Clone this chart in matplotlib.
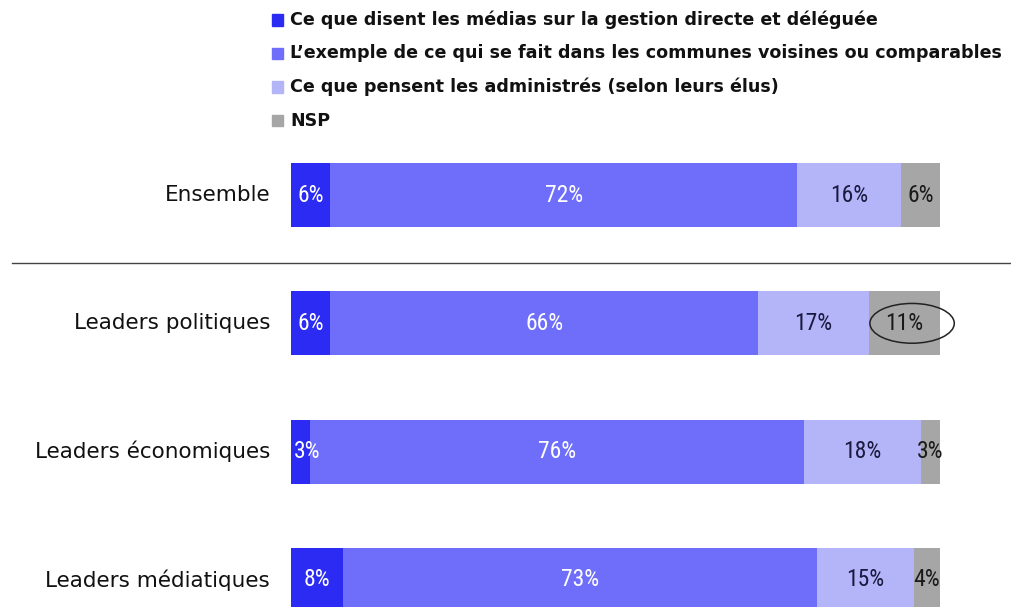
import matplotlib
matplotlib.use("Agg")
import matplotlib.pyplot as plt
from matplotlib.patches import Ellipse
from matplotlib.lines import Line2D
from matplotlib import font_manager

groupes = ['Ensemble', 'Leaders politiques', 'Leaders économiques', 'Leaders médiatiques']
series = [
    'Ce que disent les médias sur la gestion directe et déléguée',
    'L\u2019exemple de ce qui se fait dans les communes voisines ou comparables',
    'Ce que pensent les administrés (selon leurs élus)',
    'NSP',
]
medias = [6, 6, 3, 8]
communes = [72, 66, 76, 73]
administres = [16, 17, 18, 15]
nsp = [6, 11, 3, 4]

couleurs = ['#2b2bf3', '#6e6efb', '#b4b4f8', '#a6a6a6']
couleurs_texte = ['white', 'white', '#1a1a40', '#1a1a1a']

# police étroite pour les pourcentages si dispo
noms = {f.name for f in font_manager.fontManager.ttflist}
pct_font = ['DejaVu Sans']
for n in ['Liberation Sans Narrow', 'DejaVu Sans Condensed', 'Roboto Condensed', 'Open Sans Condensed']:
    if n in noms:
        pct_font = [n, 'DejaVu Sans']
        break

fig = plt.figure(figsize=(10.11, 6.07), dpi=100)
ax = fig.add_axes([291 / 1011, 0, 649 / 1011, 1])
ax.set_xlim(0, 100)
ax.set_ylim(3 + 27 / 128.33, -195 / 128.33)
ax.axis('off')

valeurs = [medias, communes, administres, nsp]
y = list(range(len(groupes)))
gauche = [0] * len(groupes)
for k, vals in enumerate(valeurs):
    ax.barh(y, vals, left=gauche, height=0.5, color=couleurs[k], edgecolor='none')
    for i, v in enumerate(vals):
        xc = gauche[i] + v / 2
        if k == 0 and v < 5:
            xc = gauche[i] + 2.5
        ax.text(xc, y[i], f"{v}%", ha='center', va='center', color=couleurs_texte[k],
                fontsize=17, family=pct_font, fontstretch='condensed')
    gauche = [g + v for g, v in zip(gauche, vals)]

# noms des groupes
for i, g in enumerate(groupes):
    ax.text(-3.2, y[i], g, ha='right', va='center', fontsize=15.5, color='#111111')

# ellipse autour de NSP leaders politiques
x_nsp = 100 - nsp[1] / 2
ax.add_patch(Ellipse((x_nsp + 1.2, 1), 13, 0.31, fill=False, edgecolor='#222222', lw=1.1, clip_on=False))

# ligne de séparation
fig.add_artist(Line2D([12 / 1011, 1], [1 - 263 / 607] * 2, color='#444444', lw=1, transform=fig.transFigure))

# légende
for k, s in enumerate(series):
    yy = 1 - (20 + k * 33.5) / 607
    fig.patches.append(plt.Rectangle((272 / 1011, yy - 5.5 / 607), 11 / 1011, 11 / 607,
                                     color=couleurs[k], transform=fig.transFigure, figure=fig))
    fig.text(290 / 1011, yy, s, ha='left', va='center', fontsize=12.6, fontweight='bold', color='#111111')

fig.savefig('out.png', dpi=100)
